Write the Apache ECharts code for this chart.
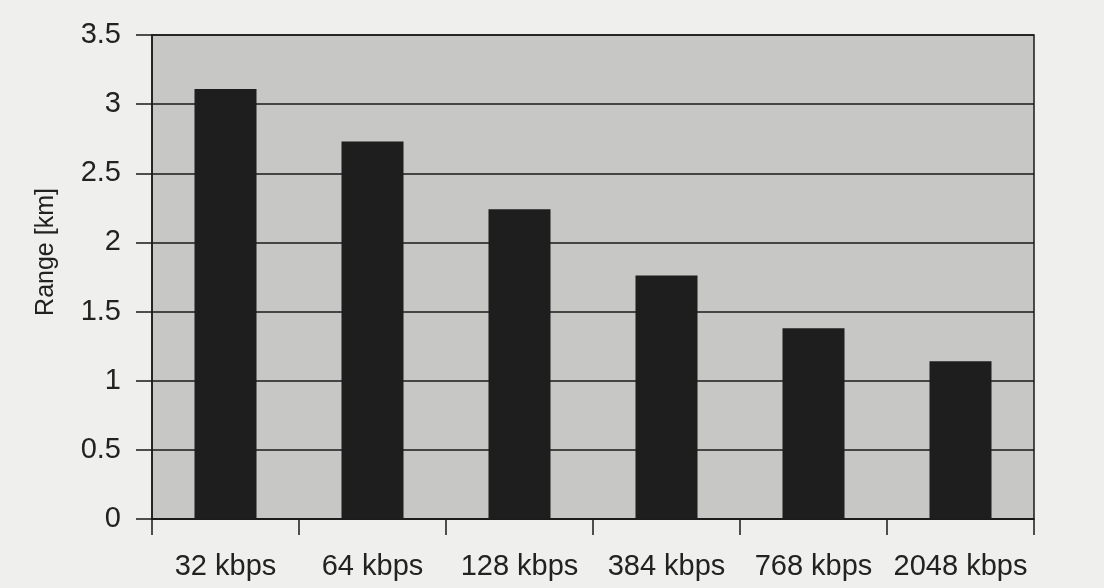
<!DOCTYPE html>
<html>
<head>
<meta charset="utf-8">
<script src="https://cdn.jsdelivr.net/npm/echarts@6/dist/echarts.min.js"></script>
<style>
  html, body { margin: 0; padding: 0; background: #efefed; }
  #chart { width: 1104px; height: 588px; }
</style>
</head>
<body>
<div id="chart"></div>
<script>
// Data rate categories and achievable range in km
const categories = ['32 kbps', '64 kbps', '128 kbps', '384 kbps', '768 kbps', '2048 kbps'];
const rangeKm = [3.11, 2.73, 2.24, 1.76, 1.38, 1.14];
const yTicks = { min: 0, max: 3.5, interval: 0.5 };

const chart = echarts.init(document.getElementById('chart'), null, { renderer: 'canvas' });

const font = 'Liberation Sans, Arial, Helvetica, sans-serif';

chart.setOption({
  animation: false,
  backgroundColor: '#efefed',
  grid: {
    left: 152, right: 70, top: 35, bottom: 69,
    show: true,
    backgroundColor: '#c7c7c5',
    borderColor: '#1a1a1a',
    borderWidth: 1.5
  },
  xAxis: {
    type: 'category',
    data: categories,
    boundaryGap: true,
    axisLine: { show: true, lineStyle: { color: '#1a1a1a', width: 1.5 } },
    axisTick: { show: true, length: 16, lineStyle: { color: '#1a1a1a', width: 1.5 } },
    axisLabel: { interval: 0, color: '#222', fontFamily: font, fontSize: 29, margin: 33 }
  },
  yAxis: {
    type: 'value',
    min: yTicks.min,
    max: yTicks.max,
    interval: yTicks.interval,
    name: 'Range [km]',
    nameLocation: 'middle',
    nameGap: 93,
    nameRotate: 90,
    nameTextStyle: { color: '#222', fontFamily: font, fontSize: 25, padding: [0, 0, 0, 50] },
    axisLine: { show: true, lineStyle: { color: '#1a1a1a', width: 1.5 } },
    axisTick: { show: true, length: 16, lineStyle: { color: '#1a1a1a', width: 1.5 } },
    axisLabel: {
      color: '#222', fontFamily: font, fontSize: 29, margin: 31,
      formatter: v => String(v)
    },
    splitLine: { show: true, lineStyle: { color: '#1a1a1a', width: 1.5 } }
  },
  series: [{
    type: 'bar',
    data: rangeKm,
    barWidth: 62,
    itemStyle: { color: '#1d1e1d' }
  }]
});
</script>
</body>
</html>
